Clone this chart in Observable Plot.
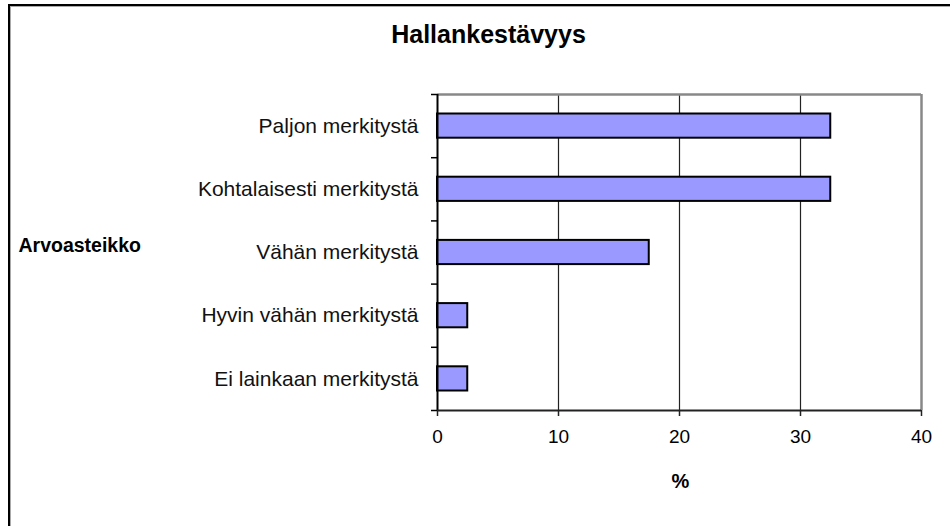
<!DOCTYPE html>
<html>
<head>
<meta charset="utf-8">
<script src="https://cdn.jsdelivr.net/npm/d3@7"></script>
<script src="https://cdn.jsdelivr.net/npm/@observablehq/plot@0.6"></script>
<style>
  html, body { margin: 0; padding: 0; background: #fff; }
  #wrap { position: relative; width: 950px; height: 526px; overflow: hidden; }
  #border { position: absolute; left: 8px; top: 4px; width: 1000px; height: 600px;
            border-left: 2px solid #000; border-top: 2px solid #000;
            box-shadow: inset 1px 1px 0 #aaa; }
  #chart { position: absolute; left: 0; top: 0; }
</style>
</head>
<body>
<div id="wrap"><div id="border"></div><div id="chart"></div></div>
<script>
const title = "Hallankestävyys";
const yTitle = "Arvoasteikko";
const xTitle = "%";
const categories = [
  "Paljon merkitystä",
  "Kohtalaisesti merkitystä",
  "Vähän merkitystä",
  "Hyvin vähän merkitystä",
  "Ei lainkaan merkitystä"
];
const values = [32.5, 32.5, 17.5, 2.5, 2.5];
const xTicks = [0, 10, 20, 30, 40];
const gridValues = [10, 20, 30];

const rows = categories.map((c, i) => ({label: c, value: values[i], i0: i, i1: i + 1}));
const n = categories.length;

const chart = Plot.plot({
  width: 950,
  height: 526,
  marginLeft: 437,
  marginRight: 29,
  marginTop: 94,
  marginBottom: 116,
  style: {fontFamily: "'Liberation Sans', Arial, sans-serif", background: "transparent", color: "#000"},
  x: {domain: [0, 40]},
  y: {domain: [0, n], reverse: true},
  marks: [
    Plot.ruleX(gridValues, {stroke: "#222", strokeWidth: 1.2}),
    Plot.ruleY([0], {stroke: "#888", strokeWidth: 2.5}),
    Plot.ruleX([40], {stroke: "#888", strokeWidth: 2.5}),
    Plot.rectX(rows, {x1: 0, x2: "value", y1: "i0", y2: "i1", insetTop: 19.5, insetBottom: 19.5,
      fill: "#9999ff", stroke: "#000", strokeWidth: 2}),
    Plot.ruleX([0], {stroke: "#000", strokeWidth: 2}),
    Plot.ruleY([n], {stroke: "#222", strokeWidth: 2}),
    Plot.axisX({ticks: xTicks, tickSize: 6, tickPadding: 13, fontSize: 19, label: null, stroke: "#222", strokeWidth: 1.5}),
    Plot.axisY({ticks: d3.range(n + 1), tickSize: 6, tickFormat: () => "", label: null, strokeWidth: 1.5}),
    Plot.axisY({ticks: categories.map((_, i) => i + 0.5), tickSize: 0, tickPadding: 19,
      tickFormat: v => categories[Math.floor(v)], fontSize: 21, label: null, fill: "#111"}),
    Plot.text([title], {text: d => d, frameAnchor: "top", dx: -191, dy: -69, fontSize: 25, fontWeight: "bold", fill: "#000"}),
    Plot.text([yTitle], {text: d => d, frameAnchor: "left", textAnchor: "start", dx: -419, dy: -7, fontSize: 19.5, fontWeight: "bold", fill: "#000"}),
    Plot.text([xTitle], {text: d => d, frameAnchor: "bottom", dx: 1, dy: 77, fontSize: 20, fontWeight: "bold", fill: "#000"})
  ]
});
document.getElementById("chart").appendChild(chart);
</script>
</body>
</html>
